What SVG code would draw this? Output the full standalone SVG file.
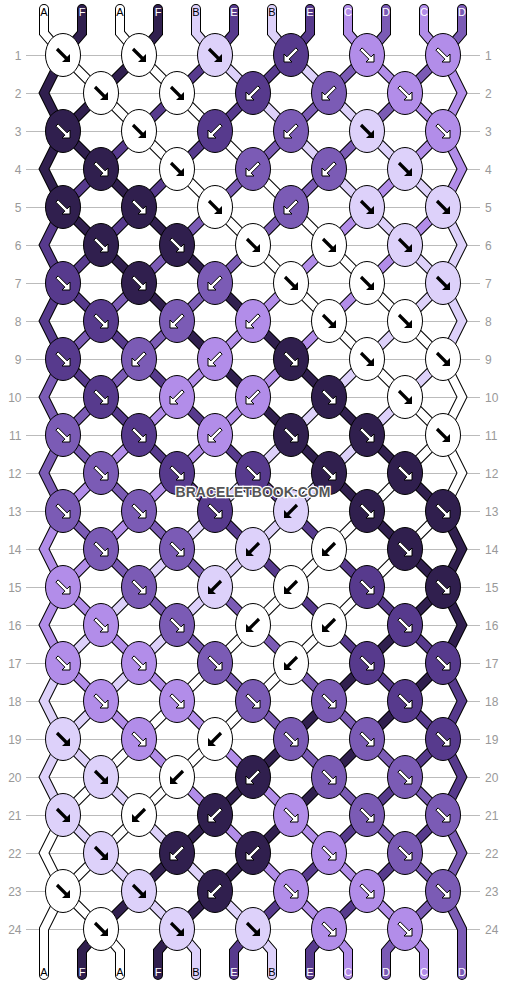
<svg xmlns="http://www.w3.org/2000/svg" xmlns:xlink="http://www.w3.org/1999/xlink" width="506" height="984" viewBox="0 0 506 984">
<style>
.rl{stroke:#bbb;stroke-width:1;fill:none}
.nl{font-family:"Liberation Sans",Arial,sans-serif;font-size:12px;fill:#999;text-anchor:end}
.nr{font-family:"Liberation Sans",Arial,sans-serif;font-size:12px;fill:#999;text-anchor:start}
.lb{font-family:"Liberation Sans",Arial,sans-serif;font-size:11px;text-anchor:middle}
.lk{fill:#000}.lw{fill:#fff}
.A{fill:#ffffff}.B{fill:#ddd1fa}.C{fill:#b28de9}.D{fill:#7b5bb5}.E{fill:#573a8d}.F{fill:#301f4e}
.sA{stroke:#ffffff}.sB{stroke:#ddd1fa}.sC{stroke:#b28de9}.sD{stroke:#7b5bb5}.sE{stroke:#573a8d}.sF{stroke:#301f4e}
.wm{font-family:"Liberation Sans",Arial,sans-serif;font-size:14px;font-weight:bold;fill:#555;stroke:#fff;stroke-width:2.5;paint-order:stroke;text-anchor:middle}
</style>
<defs>
<polyline id="s0" points="44,9 44,33 63,55 101,93 139,131 177,169 215,207 253,245 291,283 329,321 367,359 405,397 443,435 462,473 443,511 405,549 367,587 329,625 291,663 253,701 215,739 177,777 139,815 101,853 63,891 44,929 44,975"/>
<polyline id="s1" points="82,9 82,33 63,55 44,93 63,131 101,169 139,207 177,245 215,283 253,321 291,359 329,397 367,435 405,473 443,511 462,549 443,587 405,625 367,663 329,701 291,739 253,777 215,815 177,853 139,891 101,929 82,951 82,975"/>
<polyline id="s2" points="120,9 120,33 139,55 177,93 215,131 253,169 291,207 329,245 367,283 405,321 443,359 462,397 443,435 405,473 367,511 329,549 291,587 253,625 215,663 177,701 139,739 101,777 63,815 44,853 63,891 101,929 120,951 120,975"/>
<polyline id="s3" points="158,9 158,33 139,55 101,93 63,131 44,169 63,207 101,245 139,283 177,321 215,359 253,397 291,435 329,473 367,511 405,549 443,587 462,625 443,663 405,701 367,739 329,777 291,815 253,853 215,891 177,929 158,951 158,975"/>
<polyline id="s4" points="196,9 196,33 215,55 253,93 291,131 329,169 367,207 405,245 443,283 462,321 443,359 405,397 367,435 329,473 291,511 253,549 215,587 177,625 139,663 101,701 63,739 44,777 63,815 101,853 139,891 177,929 196,951 196,975"/>
<polyline id="s5" points="234,9 234,33 215,55 177,93 139,131 101,169 63,207 44,245 63,283 101,321 139,359 177,397 215,435 253,473 291,511 329,549 367,587 405,625 443,663 462,701 443,739 405,777 367,815 329,853 291,891 253,929 234,951 234,975"/>
<polyline id="s6" points="272,9 272,33 291,55 329,93 367,131 405,169 443,207 462,245 443,283 405,321 367,359 329,397 291,435 253,473 215,511 177,549 139,587 101,625 63,663 44,701 63,739 101,777 139,815 177,853 215,891 253,929 272,951 272,975"/>
<polyline id="s7" points="310,9 310,33 291,55 253,93 215,131 177,169 139,207 101,245 63,283 44,321 63,359 101,397 139,435 177,473 215,511 253,549 291,587 329,625 367,663 405,701 443,739 462,777 443,815 405,853 367,891 329,929 310,951 310,975"/>
<polyline id="s8" points="348,9 348,33 367,55 405,93 443,131 462,169 443,207 405,245 367,283 329,321 291,359 253,397 215,435 177,473 139,511 101,549 63,587 44,625 63,663 101,701 139,739 177,777 215,815 253,853 291,891 329,929 348,951 348,975"/>
<polyline id="s9" points="386,9 386,33 367,55 329,93 291,131 253,169 215,207 177,245 139,283 101,321 63,359 44,397 63,435 101,473 139,511 177,549 215,587 253,625 291,663 329,701 367,739 405,777 443,815 462,853 443,891 405,929 386,951 386,975"/>
<polyline id="s10" points="424,9 424,33 443,55 462,93 443,131 405,169 367,207 329,245 291,283 253,321 215,359 177,397 139,435 101,473 63,511 44,549 63,587 101,625 139,663 177,701 215,739 253,777 291,815 329,853 367,891 405,929 424,951 424,975"/>
<polyline id="s11" points="462,9 462,33 443,55 405,93 367,131 329,169 291,207 253,245 215,283 177,321 139,359 101,397 63,435 44,473 63,511 101,549 139,587 177,625 215,663 253,701 291,739 329,777 367,815 405,853 443,891 462,929 462,975"/>
<ellipse id="e" rx="17.5" ry="21.5" stroke="#000" stroke-width="1"/>
<path id="sed" fill="#000" d="M-4.87,-7.13L4.13,1.87L7,-1L7,7L-1,7L1.87,4.13L-7.13,-4.87Z"/>
<path id="sew" fill="#fff" stroke="#000" stroke-width="1" stroke-linejoin="miter" d="M-4.87,-7.13L4.13,1.87L7,-1L7,7L-1,7L1.87,4.13L-7.13,-4.87Z"/>
<path id="swd" fill="#000" d="M4.87,-7.13L-4.13,1.87L-7,-1L-7,7L1,7L-1.87,4.13L7.13,-4.87Z"/>
<path id="sww" fill="#fff" stroke="#000" stroke-width="1" stroke-linejoin="miter" d="M4.87,-7.13L-4.13,1.87L-7,-1L-7,7L1,7L-1.87,4.13L7.13,-4.87Z"/>
</defs>
<g id="rows">
<path class="rl" d="M26 55.5H480M26 93.5H480M26 131.5H480M26 169.5H480M26 207.5H480M26 245.5H480M26 283.5H480M26 321.5H480M26 359.5H480M26 397.5H480M26 435.5H480M26 473.5H480M26 511.5H480M26 549.5H480M26 587.5H480M26 625.5H480M26 663.5H480M26 701.5H480M26 739.5H480M26 777.5H480M26 815.5H480M26 853.5H480M26 891.5H480M26 929.5H480"/>
<text class="nl" x="21.5" y="59.5">1</text><text class="nr" x="485" y="59.5">1</text>
<text class="nl" x="21.5" y="97.5">2</text><text class="nr" x="485" y="97.5">2</text>
<text class="nl" x="21.5" y="135.5">3</text><text class="nr" x="485" y="135.5">3</text>
<text class="nl" x="21.5" y="173.5">4</text><text class="nr" x="485" y="173.5">4</text>
<text class="nl" x="21.5" y="211.5">5</text><text class="nr" x="485" y="211.5">5</text>
<text class="nl" x="21.5" y="249.5">6</text><text class="nr" x="485" y="249.5">6</text>
<text class="nl" x="21.5" y="287.5">7</text><text class="nr" x="485" y="287.5">7</text>
<text class="nl" x="21.5" y="325.5">8</text><text class="nr" x="485" y="325.5">8</text>
<text class="nl" x="21.5" y="363.5">9</text><text class="nr" x="485" y="363.5">9</text>
<text class="nl" x="21.5" y="401.5">10</text><text class="nr" x="485" y="401.5">10</text>
<text class="nl" x="21.5" y="439.5">11</text><text class="nr" x="485" y="439.5">11</text>
<text class="nl" x="21.5" y="477.5">12</text><text class="nr" x="485" y="477.5">12</text>
<text class="nl" x="21.5" y="515.5">13</text><text class="nr" x="485" y="515.5">13</text>
<text class="nl" x="21.5" y="553.5">14</text><text class="nr" x="485" y="553.5">14</text>
<text class="nl" x="21.5" y="591.5">15</text><text class="nr" x="485" y="591.5">15</text>
<text class="nl" x="21.5" y="629.5">16</text><text class="nr" x="485" y="629.5">16</text>
<text class="nl" x="21.5" y="667.5">17</text><text class="nr" x="485" y="667.5">17</text>
<text class="nl" x="21.5" y="705.5">18</text><text class="nr" x="485" y="705.5">18</text>
<text class="nl" x="21.5" y="743.5">19</text><text class="nr" x="485" y="743.5">19</text>
<text class="nl" x="21.5" y="781.5">20</text><text class="nr" x="485" y="781.5">20</text>
<text class="nl" x="21.5" y="819.5">21</text><text class="nr" x="485" y="819.5">21</text>
<text class="nl" x="21.5" y="857.5">22</text><text class="nr" x="485" y="857.5">22</text>
<text class="nl" x="21.5" y="895.5">23</text><text class="nr" x="485" y="895.5">23</text>
<text class="nl" x="21.5" y="933.5">24</text><text class="nr" x="485" y="933.5">24</text>
</g>
<g id="connectors" fill="none" stroke-linecap="round" stroke-linejoin="miter" stroke-miterlimit="4">
<g stroke="#000" stroke-width="10">
<use href="#s0"/><use href="#s1"/><use href="#s2"/><use href="#s3"/><use href="#s4"/><use href="#s5"/><use href="#s6"/><use href="#s7"/><use href="#s8"/><use href="#s9"/><use href="#s10"/><use href="#s11"/>
</g>
<g stroke-width="8">
<use href="#s0" class="sA"/><use href="#s1" class="sF"/><use href="#s2" class="sA"/><use href="#s3" class="sF"/><use href="#s4" class="sB"/><use href="#s5" class="sE"/><use href="#s6" class="sB"/><use href="#s7" class="sE"/><use href="#s8" class="sC"/><use href="#s9" class="sD"/><use href="#s10" class="sC"/><use href="#s11" class="sD"/>
</g>
</g>
<g id="labels-top" class="lb">
<text x="44" y="16" class="lk">A</text><text x="82" y="16" class="lw">F</text><text x="120" y="16" class="lk">A</text><text x="158" y="16" class="lw">F</text><text x="196" y="16" class="lk">B</text><text x="234" y="16" class="lw">E</text><text x="272" y="16" class="lk">B</text><text x="310" y="16" class="lw">E</text><text x="348" y="16" class="lw">C</text><text x="386" y="16" class="lw">D</text><text x="424" y="16" class="lw">C</text><text x="462" y="16" class="lw">D</text>
</g>
<g id="labels-bottom" class="lb">
<text x="44" y="976" class="lk">A</text><text x="82" y="976" class="lw">F</text><text x="120" y="976" class="lk">A</text><text x="158" y="976" class="lw">F</text><text x="196" y="976" class="lk">B</text><text x="234" y="976" class="lw">E</text><text x="272" y="976" class="lk">B</text><text x="310" y="976" class="lw">E</text><text x="348" y="976" class="lw">C</text><text x="386" y="976" class="lw">D</text><text x="424" y="976" class="lw">C</text><text x="462" y="976" class="lw">D</text>
</g>
<g id="knots">
<g id="k1-1" class="A" transform="translate(63,55)"><use href="#e"/><use href="#sed"/></g>
<g id="k1-2" class="A" transform="translate(139,55)"><use href="#e"/><use href="#sed"/></g>
<g id="k1-3" class="B" transform="translate(215,55)"><use href="#e"/><use href="#sed"/></g>
<g id="k1-4" class="E" transform="translate(291,55)"><use href="#e"/><use href="#sww"/></g>
<g id="k1-5" class="C" transform="translate(367,55)"><use href="#e"/><use href="#sew"/></g>
<g id="k1-6" class="C" transform="translate(443,55)"><use href="#e"/><use href="#sew"/></g>
<g id="k2-1" class="A" transform="translate(101,93)"><use href="#e"/><use href="#sed"/></g>
<g id="k2-2" class="A" transform="translate(177,93)"><use href="#e"/><use href="#sed"/></g>
<g id="k2-3" class="E" transform="translate(253,93)"><use href="#e"/><use href="#sww"/></g>
<g id="k2-4" class="D" transform="translate(329,93)"><use href="#e"/><use href="#sww"/></g>
<g id="k2-5" class="C" transform="translate(405,93)"><use href="#e"/><use href="#sew"/></g>
<g id="k3-1" class="F" transform="translate(63,131)"><use href="#e"/><use href="#sew"/></g>
<g id="k3-2" class="A" transform="translate(139,131)"><use href="#e"/><use href="#sed"/></g>
<g id="k3-3" class="E" transform="translate(215,131)"><use href="#e"/><use href="#sww"/></g>
<g id="k3-4" class="D" transform="translate(291,131)"><use href="#e"/><use href="#sww"/></g>
<g id="k3-5" class="B" transform="translate(367,131)"><use href="#e"/><use href="#sed"/></g>
<g id="k3-6" class="C" transform="translate(443,131)"><use href="#e"/><use href="#sew"/></g>
<g id="k4-1" class="F" transform="translate(101,169)"><use href="#e"/><use href="#sew"/></g>
<g id="k4-2" class="A" transform="translate(177,169)"><use href="#e"/><use href="#sed"/></g>
<g id="k4-3" class="D" transform="translate(253,169)"><use href="#e"/><use href="#sww"/></g>
<g id="k4-4" class="D" transform="translate(329,169)"><use href="#e"/><use href="#sww"/></g>
<g id="k4-5" class="B" transform="translate(405,169)"><use href="#e"/><use href="#sed"/></g>
<g id="k5-1" class="F" transform="translate(63,207)"><use href="#e"/><use href="#sew"/></g>
<g id="k5-2" class="F" transform="translate(139,207)"><use href="#e"/><use href="#sew"/></g>
<g id="k5-3" class="A" transform="translate(215,207)"><use href="#e"/><use href="#sed"/></g>
<g id="k5-4" class="D" transform="translate(291,207)"><use href="#e"/><use href="#sww"/></g>
<g id="k5-5" class="B" transform="translate(367,207)"><use href="#e"/><use href="#sed"/></g>
<g id="k5-6" class="B" transform="translate(443,207)"><use href="#e"/><use href="#sed"/></g>
<g id="k6-1" class="F" transform="translate(101,245)"><use href="#e"/><use href="#sew"/></g>
<g id="k6-2" class="F" transform="translate(177,245)"><use href="#e"/><use href="#sew"/></g>
<g id="k6-3" class="A" transform="translate(253,245)"><use href="#e"/><use href="#sed"/></g>
<g id="k6-4" class="A" transform="translate(329,245)"><use href="#e"/><use href="#sed"/></g>
<g id="k6-5" class="B" transform="translate(405,245)"><use href="#e"/><use href="#sed"/></g>
<g id="k7-1" class="E" transform="translate(63,283)"><use href="#e"/><use href="#sew"/></g>
<g id="k7-2" class="F" transform="translate(139,283)"><use href="#e"/><use href="#sew"/></g>
<g id="k7-3" class="D" transform="translate(215,283)"><use href="#e"/><use href="#sww"/></g>
<g id="k7-4" class="A" transform="translate(291,283)"><use href="#e"/><use href="#sed"/></g>
<g id="k7-5" class="A" transform="translate(367,283)"><use href="#e"/><use href="#sed"/></g>
<g id="k7-6" class="B" transform="translate(443,283)"><use href="#e"/><use href="#sed"/></g>
<g id="k8-1" class="E" transform="translate(101,321)"><use href="#e"/><use href="#sew"/></g>
<g id="k8-2" class="D" transform="translate(177,321)"><use href="#e"/><use href="#sww"/></g>
<g id="k8-3" class="C" transform="translate(253,321)"><use href="#e"/><use href="#sww"/></g>
<g id="k8-4" class="A" transform="translate(329,321)"><use href="#e"/><use href="#sed"/></g>
<g id="k8-5" class="A" transform="translate(405,321)"><use href="#e"/><use href="#sed"/></g>
<g id="k9-1" class="E" transform="translate(63,359)"><use href="#e"/><use href="#sew"/></g>
<g id="k9-2" class="D" transform="translate(139,359)"><use href="#e"/><use href="#sww"/></g>
<g id="k9-3" class="C" transform="translate(215,359)"><use href="#e"/><use href="#sww"/></g>
<g id="k9-4" class="F" transform="translate(291,359)"><use href="#e"/><use href="#sew"/></g>
<g id="k9-5" class="A" transform="translate(367,359)"><use href="#e"/><use href="#sed"/></g>
<g id="k9-6" class="A" transform="translate(443,359)"><use href="#e"/><use href="#sed"/></g>
<g id="k10-1" class="E" transform="translate(101,397)"><use href="#e"/><use href="#sew"/></g>
<g id="k10-2" class="C" transform="translate(177,397)"><use href="#e"/><use href="#sww"/></g>
<g id="k10-3" class="C" transform="translate(253,397)"><use href="#e"/><use href="#sww"/></g>
<g id="k10-4" class="F" transform="translate(329,397)"><use href="#e"/><use href="#sew"/></g>
<g id="k10-5" class="A" transform="translate(405,397)"><use href="#e"/><use href="#sed"/></g>
<g id="k11-1" class="D" transform="translate(63,435)"><use href="#e"/><use href="#sew"/></g>
<g id="k11-2" class="E" transform="translate(139,435)"><use href="#e"/><use href="#sew"/></g>
<g id="k11-3" class="C" transform="translate(215,435)"><use href="#e"/><use href="#sww"/></g>
<g id="k11-4" class="F" transform="translate(291,435)"><use href="#e"/><use href="#sew"/></g>
<g id="k11-5" class="F" transform="translate(367,435)"><use href="#e"/><use href="#sew"/></g>
<g id="k11-6" class="A" transform="translate(443,435)"><use href="#e"/><use href="#sed"/></g>
<g id="k12-1" class="D" transform="translate(101,473)"><use href="#e"/><use href="#sew"/></g>
<g id="k12-2" class="E" transform="translate(177,473)"><use href="#e"/><use href="#sew"/></g>
<g id="k12-3" class="E" transform="translate(253,473)"><use href="#e"/><use href="#sew"/></g>
<g id="k12-4" class="F" transform="translate(329,473)"><use href="#e"/><use href="#sew"/></g>
<g id="k12-5" class="F" transform="translate(405,473)"><use href="#e"/><use href="#sew"/></g>
<g id="k13-1" class="D" transform="translate(63,511)"><use href="#e"/><use href="#sew"/></g>
<g id="k13-2" class="D" transform="translate(139,511)"><use href="#e"/><use href="#sew"/></g>
<g id="k13-3" class="E" transform="translate(215,511)"><use href="#e"/><use href="#sew"/></g>
<g id="k13-4" class="B" transform="translate(291,511)"><use href="#e"/><use href="#swd"/></g>
<g id="k13-5" class="F" transform="translate(367,511)"><use href="#e"/><use href="#sew"/></g>
<g id="k13-6" class="F" transform="translate(443,511)"><use href="#e"/><use href="#sew"/></g>
<g id="k14-1" class="D" transform="translate(101,549)"><use href="#e"/><use href="#sew"/></g>
<g id="k14-2" class="D" transform="translate(177,549)"><use href="#e"/><use href="#sew"/></g>
<g id="k14-3" class="B" transform="translate(253,549)"><use href="#e"/><use href="#swd"/></g>
<g id="k14-4" class="A" transform="translate(329,549)"><use href="#e"/><use href="#swd"/></g>
<g id="k14-5" class="F" transform="translate(405,549)"><use href="#e"/><use href="#sew"/></g>
<g id="k15-1" class="C" transform="translate(63,587)"><use href="#e"/><use href="#sew"/></g>
<g id="k15-2" class="D" transform="translate(139,587)"><use href="#e"/><use href="#sew"/></g>
<g id="k15-3" class="B" transform="translate(215,587)"><use href="#e"/><use href="#swd"/></g>
<g id="k15-4" class="A" transform="translate(291,587)"><use href="#e"/><use href="#swd"/></g>
<g id="k15-5" class="E" transform="translate(367,587)"><use href="#e"/><use href="#sew"/></g>
<g id="k15-6" class="F" transform="translate(443,587)"><use href="#e"/><use href="#sew"/></g>
<g id="k16-1" class="C" transform="translate(101,625)"><use href="#e"/><use href="#sew"/></g>
<g id="k16-2" class="D" transform="translate(177,625)"><use href="#e"/><use href="#sew"/></g>
<g id="k16-3" class="A" transform="translate(253,625)"><use href="#e"/><use href="#swd"/></g>
<g id="k16-4" class="A" transform="translate(329,625)"><use href="#e"/><use href="#swd"/></g>
<g id="k16-5" class="E" transform="translate(405,625)"><use href="#e"/><use href="#sew"/></g>
<g id="k17-1" class="C" transform="translate(63,663)"><use href="#e"/><use href="#sew"/></g>
<g id="k17-2" class="C" transform="translate(139,663)"><use href="#e"/><use href="#sew"/></g>
<g id="k17-3" class="D" transform="translate(215,663)"><use href="#e"/><use href="#sew"/></g>
<g id="k17-4" class="A" transform="translate(291,663)"><use href="#e"/><use href="#swd"/></g>
<g id="k17-5" class="E" transform="translate(367,663)"><use href="#e"/><use href="#sew"/></g>
<g id="k17-6" class="E" transform="translate(443,663)"><use href="#e"/><use href="#sew"/></g>
<g id="k18-1" class="C" transform="translate(101,701)"><use href="#e"/><use href="#sew"/></g>
<g id="k18-2" class="C" transform="translate(177,701)"><use href="#e"/><use href="#sew"/></g>
<g id="k18-3" class="D" transform="translate(253,701)"><use href="#e"/><use href="#sew"/></g>
<g id="k18-4" class="D" transform="translate(329,701)"><use href="#e"/><use href="#sew"/></g>
<g id="k18-5" class="E" transform="translate(405,701)"><use href="#e"/><use href="#sew"/></g>
<g id="k19-1" class="B" transform="translate(63,739)"><use href="#e"/><use href="#sed"/></g>
<g id="k19-2" class="C" transform="translate(139,739)"><use href="#e"/><use href="#sew"/></g>
<g id="k19-3" class="A" transform="translate(215,739)"><use href="#e"/><use href="#swd"/></g>
<g id="k19-4" class="D" transform="translate(291,739)"><use href="#e"/><use href="#sew"/></g>
<g id="k19-5" class="D" transform="translate(367,739)"><use href="#e"/><use href="#sew"/></g>
<g id="k19-6" class="E" transform="translate(443,739)"><use href="#e"/><use href="#sew"/></g>
<g id="k20-1" class="B" transform="translate(101,777)"><use href="#e"/><use href="#sed"/></g>
<g id="k20-2" class="A" transform="translate(177,777)"><use href="#e"/><use href="#swd"/></g>
<g id="k20-3" class="F" transform="translate(253,777)"><use href="#e"/><use href="#sww"/></g>
<g id="k20-4" class="D" transform="translate(329,777)"><use href="#e"/><use href="#sew"/></g>
<g id="k20-5" class="D" transform="translate(405,777)"><use href="#e"/><use href="#sew"/></g>
<g id="k21-1" class="B" transform="translate(63,815)"><use href="#e"/><use href="#sed"/></g>
<g id="k21-2" class="A" transform="translate(139,815)"><use href="#e"/><use href="#swd"/></g>
<g id="k21-3" class="F" transform="translate(215,815)"><use href="#e"/><use href="#sww"/></g>
<g id="k21-4" class="C" transform="translate(291,815)"><use href="#e"/><use href="#sew"/></g>
<g id="k21-5" class="D" transform="translate(367,815)"><use href="#e"/><use href="#sew"/></g>
<g id="k21-6" class="D" transform="translate(443,815)"><use href="#e"/><use href="#sew"/></g>
<g id="k22-1" class="B" transform="translate(101,853)"><use href="#e"/><use href="#sed"/></g>
<g id="k22-2" class="F" transform="translate(177,853)"><use href="#e"/><use href="#sww"/></g>
<g id="k22-3" class="F" transform="translate(253,853)"><use href="#e"/><use href="#sww"/></g>
<g id="k22-4" class="C" transform="translate(329,853)"><use href="#e"/><use href="#sew"/></g>
<g id="k22-5" class="D" transform="translate(405,853)"><use href="#e"/><use href="#sew"/></g>
<g id="k23-1" class="A" transform="translate(63,891)"><use href="#e"/><use href="#sed"/></g>
<g id="k23-2" class="B" transform="translate(139,891)"><use href="#e"/><use href="#sed"/></g>
<g id="k23-3" class="F" transform="translate(215,891)"><use href="#e"/><use href="#sww"/></g>
<g id="k23-4" class="C" transform="translate(291,891)"><use href="#e"/><use href="#sew"/></g>
<g id="k23-5" class="C" transform="translate(367,891)"><use href="#e"/><use href="#sew"/></g>
<g id="k23-6" class="D" transform="translate(443,891)"><use href="#e"/><use href="#sew"/></g>
<g id="k24-1" class="A" transform="translate(101,929)"><use href="#e"/><use href="#sed"/></g>
<g id="k24-2" class="B" transform="translate(177,929)"><use href="#e"/><use href="#sed"/></g>
<g id="k24-3" class="B" transform="translate(253,929)"><use href="#e"/><use href="#sed"/></g>
<g id="k24-4" class="C" transform="translate(329,929)"><use href="#e"/><use href="#sew"/></g>
<g id="k24-5" class="C" transform="translate(405,929)"><use href="#e"/><use href="#sew"/></g>
</g>
<text id="watermark" class="wm" x="253" y="497">BRACELETBOOK.COM</text>
</svg>
